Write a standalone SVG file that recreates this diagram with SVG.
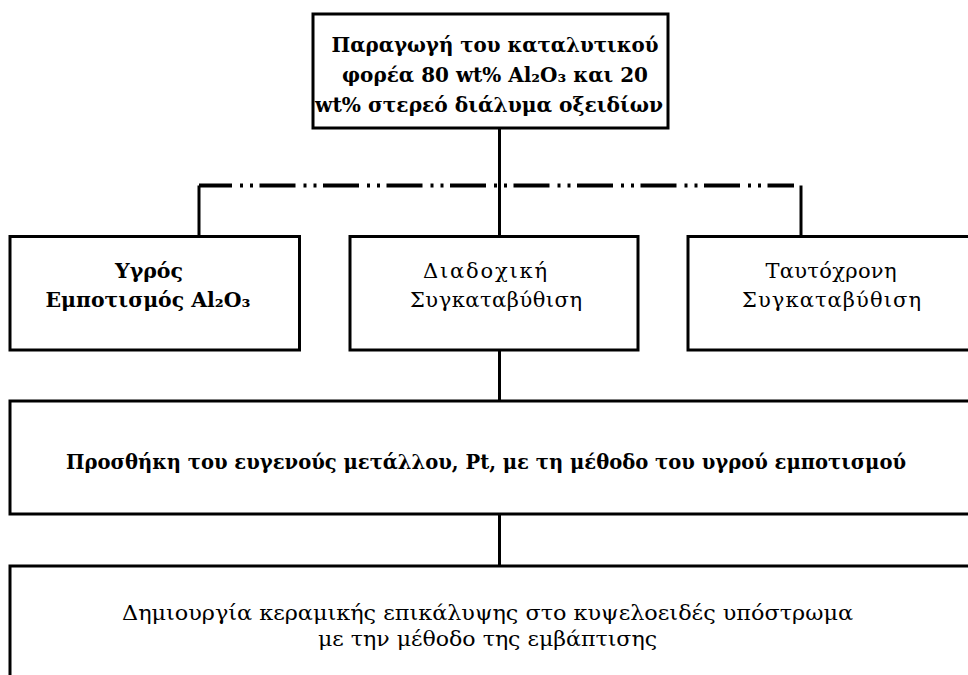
<svg xmlns="http://www.w3.org/2000/svg" width="968" height="675" viewBox="0 0 968 675">
<style>
.box{fill:#fff;stroke:#000;stroke-width:3}
.conn{fill:none;stroke:#000;stroke-width:3}
.dd{stroke-width:4;stroke-dasharray:36 8 3 7 3 6.5;stroke-dashoffset:3}
text{font-family:"DejaVu Serif","Liberation Serif",serif;font-size:21px;fill:#000;text-anchor:middle}
.b{font-weight:bold}
</style>
<rect width="968" height="675" fill="#fff"/>
<g id="connectors">
<line class="conn" x1="499.5" y1="128" x2="499.5" y2="236"/>
<line class="conn dd" x1="199" y1="185.5" x2="794" y2="185.5"/>
<polyline class="conn" points="199,185.5 199,236"/>
<polyline class="conn" points="801,185.5 801,236"/>
<line class="conn" x1="499.5" y1="350" x2="499.5" y2="401"/>
<line class="conn" x1="499.5" y1="514" x2="499.5" y2="566"/>
</g>
<g id="n1">
<rect class="box" x="313" y="14" width="355" height="114"/>
<text class="b" x="495" y="52" textLength="327" lengthAdjust="spacingAndGlyphs">Παραγωγή του καταλυτικού</text>
<text class="b" x="495" y="82" textLength="306" lengthAdjust="spacingAndGlyphs">φορέα 80 wt% Al₂O₃ και 20</text>
<text class="b" x="489" y="112" textLength="348" lengthAdjust="spacingAndGlyphs">wt% στερεό διάλυμα οξειδίων</text>
</g>
<g id="n2">
<rect class="box" x="10" y="236.5" width="289.5" height="113.5"/>
<text class="b" x="149" y="278" textLength="68" lengthAdjust="spacingAndGlyphs">Υγρός</text>
<text class="b" x="148" y="307" textLength="205" lengthAdjust="spacingAndGlyphs">Εμποτισμός Al₂O₃</text>
</g>
<g id="n3">
<rect class="box" x="350" y="236.5" width="288" height="113.5"/>
<text x="485" y="278" textLength="124" lengthAdjust="spacing">Διαδοχική</text>
<text x="496" y="307" textLength="172" lengthAdjust="spacing">Συγκαταβύθιση</text>
</g>
<g id="n4">
<rect class="box" x="688" y="236.5" width="290" height="113.5"/>
<text x="831" y="278" textLength="131" lengthAdjust="spacing">Ταυτόχρονη</text>
<text x="831.5" y="307" textLength="179" lengthAdjust="spacing">Συγκαταβύθιση</text>
</g>
<g id="n5">
<rect class="box" x="10" y="401" width="968" height="113"/>
<text class="b" x="486" y="469" textLength="840" lengthAdjust="spacingAndGlyphs">Προσθήκη του ευγενούς μετάλλου, Pt, με τη μέθοδο του υγρού εμποτισμού</text>
</g>
<g id="n6">
<rect class="box" x="10" y="566" width="968" height="130"/>
<text x="487.5" y="620" textLength="731" lengthAdjust="spacingAndGlyphs">Δημιουργία κεραμικής επικάλυψης στο κυψελοειδές υπόστρωμα</text>
<text x="487.5" y="646" textLength="339" lengthAdjust="spacingAndGlyphs">με την μέθοδο της εμβάπτισης</text>
</g>
</svg>
